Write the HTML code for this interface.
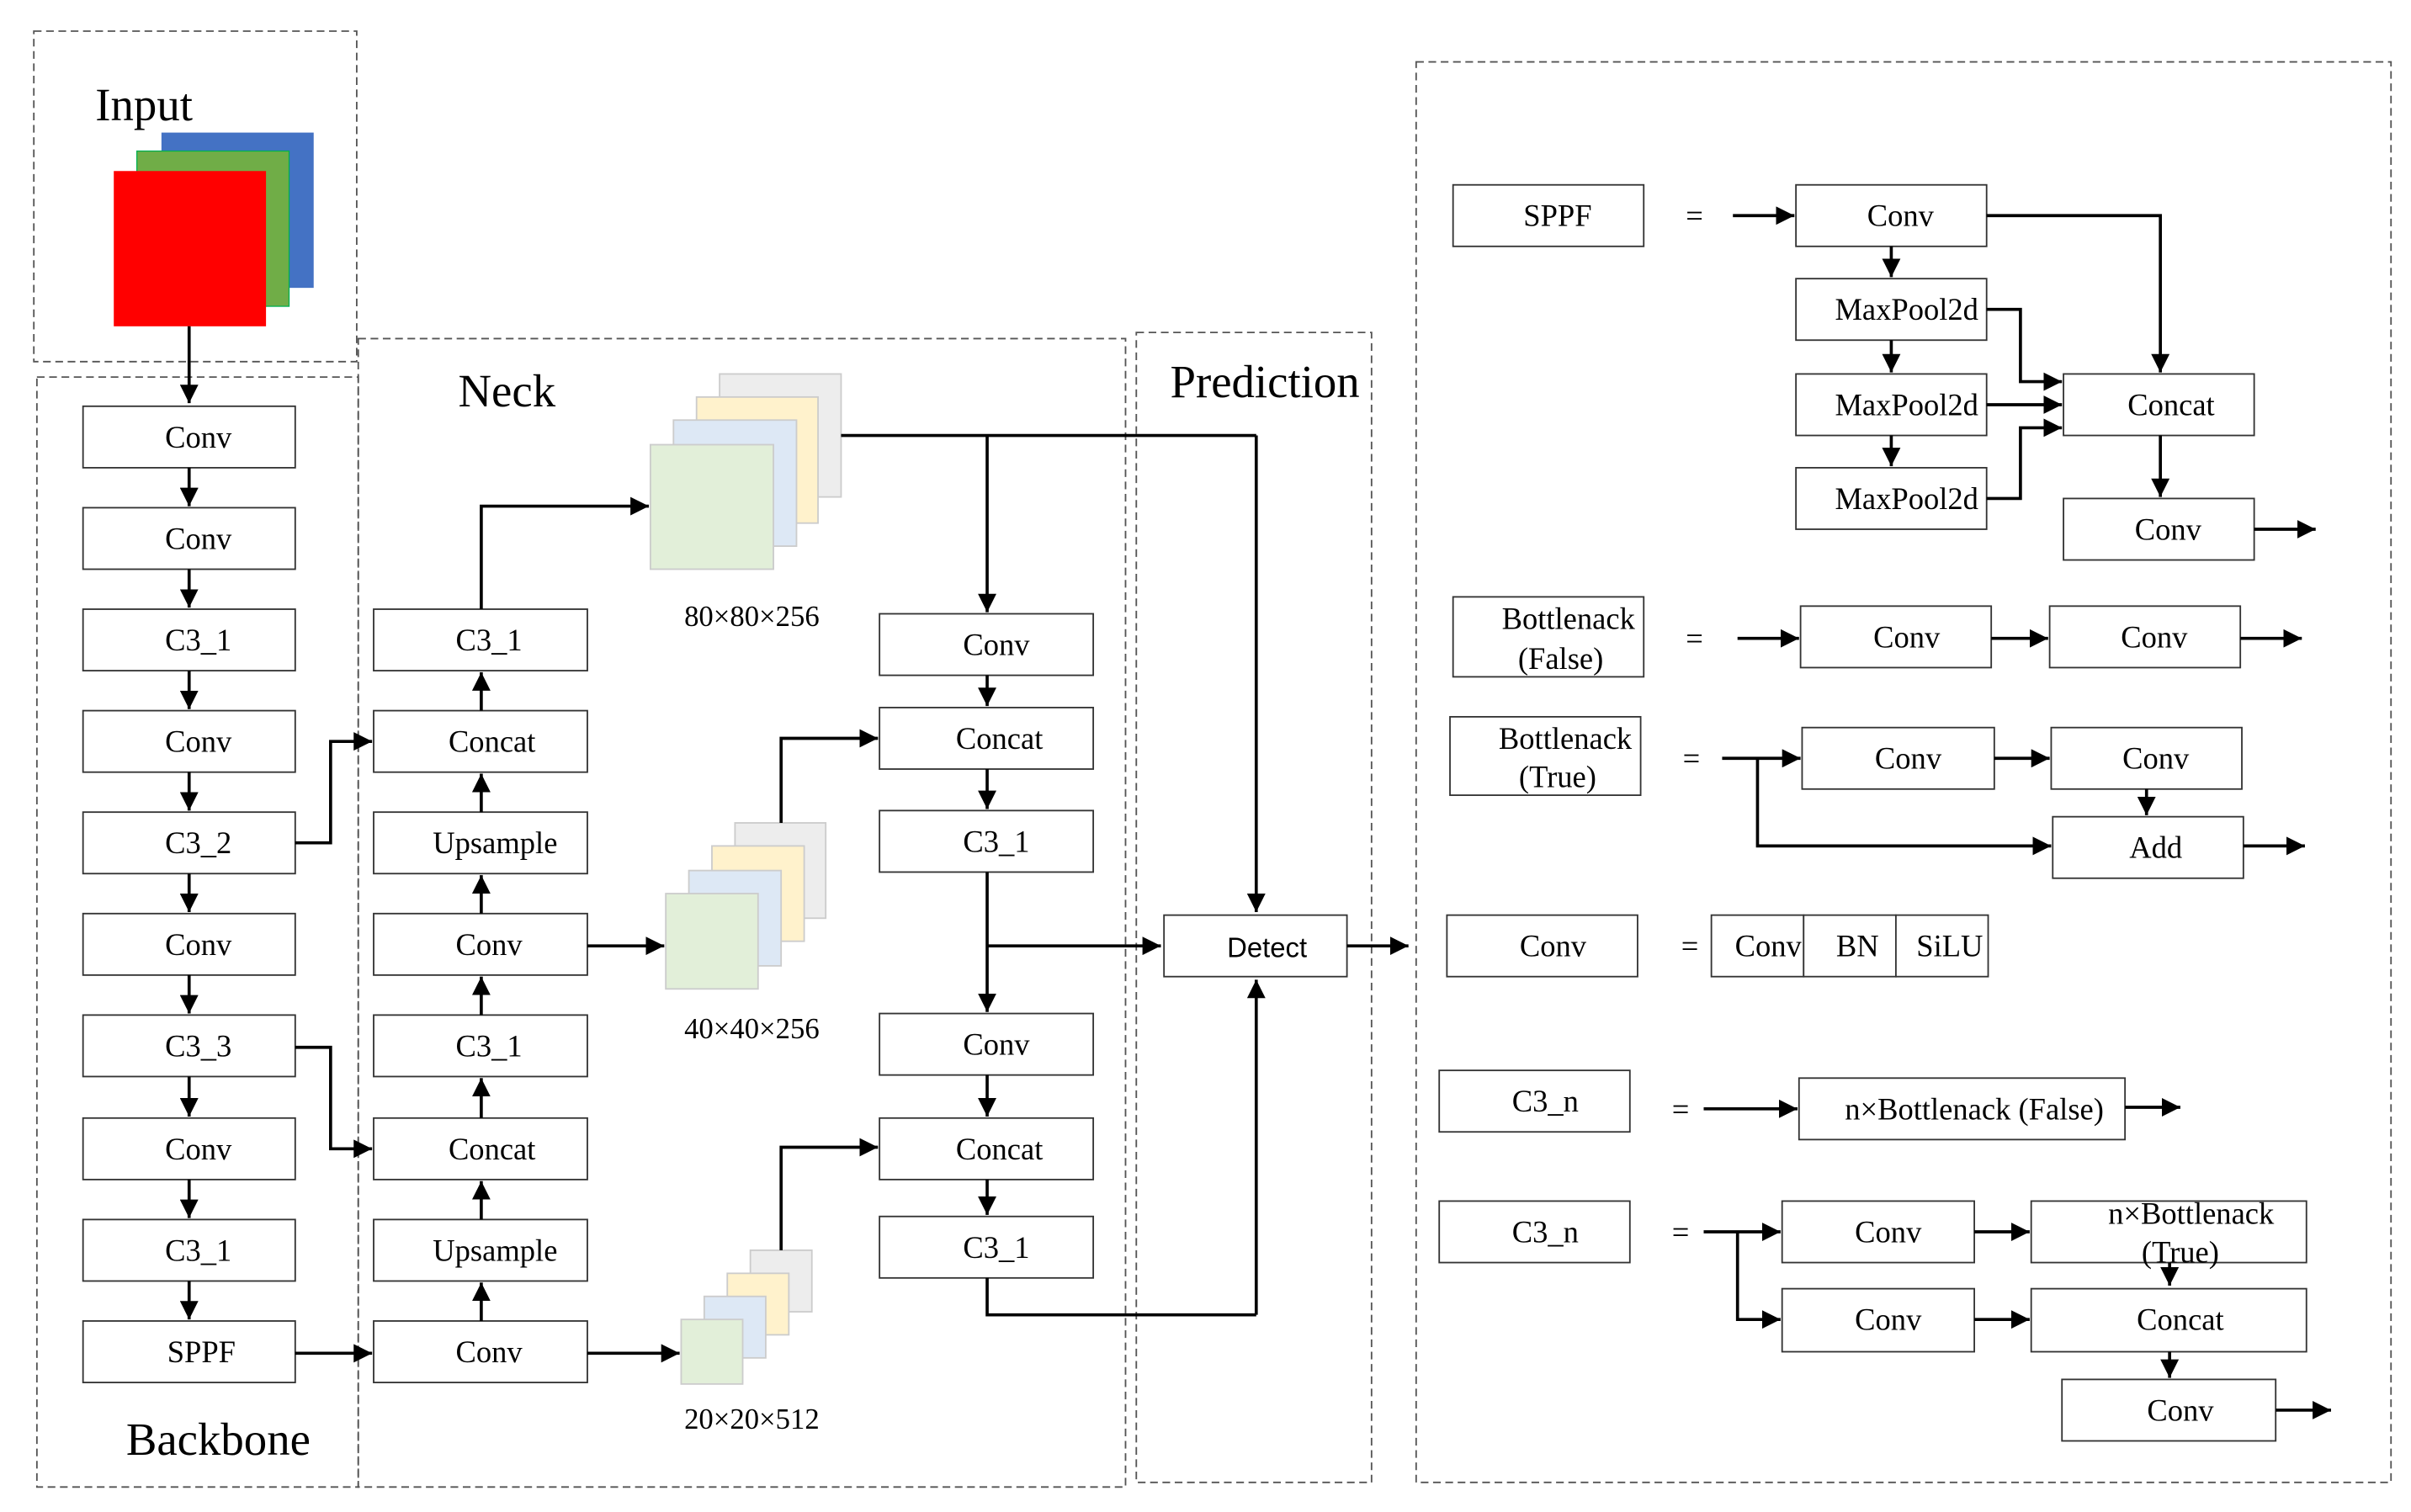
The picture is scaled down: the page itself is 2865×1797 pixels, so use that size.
<!DOCTYPE html>
<html><head><meta charset="utf-8"><style>
html,body{margin:0;padding:0;background:#fff}
svg{display:block}
text{font-family:"Liberation Serif",serif;fill:#000}
.b{fill:#fff;stroke:#333;stroke-width:1}
.d{fill:none;stroke:#555;stroke-width:1;stroke-dasharray:5 3}
.l{fill:none;stroke:#000;stroke-width:2;marker-end:url(#a)}
.n{fill:none;stroke:#000;stroke-width:2}
.t{font-size:20px;text-anchor:middle;dominant-baseline:central}
.T{font-size:30px}
</style></head><body>
<svg width="2865" height="1797" viewBox="0 0 1568 983" xmlns="http://www.w3.org/2000/svg">
<defs><marker id="a" viewBox="0 0 10 10" refX="10" refY="5" markerWidth="6" markerHeight="6" markerUnits="strokeWidth" orient="auto"><path d="M0,0L10,5L0,10z" fill="#000"/></marker></defs>

<rect class="d" x="22" y="20" width="210" height="215"/>
<rect class="d" x="24" y="245" width="209" height="722"/>
<rect class="d" x="233" y="220" width="499" height="747"/>
<rect class="d" x="739" y="216" width="153" height="748"/>
<rect class="d" x="921" y="40" width="634" height="924"/>

<text class="T" x="62" y="78">Input</text>
<text class="T" x="298" y="264">Neck</text>
<text class="T" x="82" y="946">Backbone</text>
<text class="T" x="761" y="258">Prediction</text>

<rect x="105" y="86" width="99" height="101" fill="#4472c4"/>
<rect x="89" y="98" width="99" height="101" fill="#70ad47" stroke="#00b050" stroke-width="0.7"/>
<rect x="74" y="111" width="99" height="101" fill="#ff0000"/>
<path class="l" d="M123,212V262"/>

<rect class="b" x="54" y="264" width="138" height="40"/><text class="t" x="129" y="284">Conv</text>
<rect class="b" x="54" y="330" width="138" height="40"/><text class="t" x="129" y="350">Conv</text>
<rect class="b" x="54" y="396" width="138" height="40"/><text class="t" x="129" y="416">C3_1</text>
<rect class="b" x="54" y="462" width="138" height="40"/><text class="t" x="129" y="482">Conv</text>
<rect class="b" x="54" y="528" width="138" height="40"/><text class="t" x="129" y="548">C3_2</text>
<rect class="b" x="54" y="594" width="138" height="40"/><text class="t" x="129" y="614">Conv</text>
<rect class="b" x="54" y="660" width="138" height="40"/><text class="t" x="129" y="680">C3_3</text>
<rect class="b" x="54" y="727" width="138" height="40"/><text class="t" x="129" y="747">Conv</text>
<rect class="b" x="54" y="793" width="138" height="40"/><text class="t" x="129" y="813">C3_1</text>
<rect class="b" x="54" y="859" width="138" height="40"/><text class="t" x="131" y="879">SPPF</text>
<path class="l" d="M123,304V329"/><path class="l" d="M123,370V395"/><path class="l" d="M123,436V461"/>
<path class="l" d="M123,502V527"/><path class="l" d="M123,568V593"/><path class="l" d="M123,634V659"/>
<path class="l" d="M123,700V726"/><path class="l" d="M123,767V792"/><path class="l" d="M123,833V858"/>

<rect class="b" x="243" y="396" width="139" height="40"/><text class="t" x="318" y="416">C3_1</text>
<rect class="b" x="243" y="462" width="139" height="40"/><text class="t" x="320" y="482">Concat</text>
<rect class="b" x="243" y="528" width="139" height="40"/><text class="t" x="322" y="548">Upsample</text>
<rect class="b" x="243" y="594" width="139" height="40"/><text class="t" x="318" y="614">Conv</text>
<rect class="b" x="243" y="660" width="139" height="40"/><text class="t" x="318" y="680">C3_1</text>
<rect class="b" x="243" y="727" width="139" height="40"/><text class="t" x="320" y="747">Concat</text>
<rect class="b" x="243" y="793" width="139" height="40"/><text class="t" x="322" y="813">Upsample</text>
<rect class="b" x="243" y="859" width="139" height="40"/><text class="t" x="318" y="879">Conv</text>
<path class="l" d="M313,462V437"/><path class="l" d="M313,528V503"/><path class="l" d="M313,594V569"/>
<path class="l" d="M313,660V635"/><path class="l" d="M313,727V701"/><path class="l" d="M313,793V768"/>
<path class="l" d="M313,859V834"/>
<path class="l" d="M192,548H215V482H242"/>
<path class="l" d="M192,681H215V747H242"/>
<path class="l" d="M192,880H242"/>
<path class="l" d="M313,396V329H422"/>
<path class="l" d="M382,615H432"/>
<path class="l" d="M382,880H442"/>

<g stroke="#ccc" stroke-width="1">
<rect x="468" y="243" width="79" height="80" fill="#ededed"/>
<rect x="453" y="258" width="79" height="82" fill="#fff2cc"/>
<rect x="438" y="273" width="80" height="82" fill="#dde8f5"/>
<rect x="423" y="289" width="80" height="81" fill="#e2efd9"/>
<rect x="478" y="535" width="59" height="62" fill="#ededed"/>
<rect x="463" y="550" width="60" height="62" fill="#fff2cc"/>
<rect x="448" y="566" width="60" height="62" fill="#dde8f5"/>
<rect x="433" y="581" width="60" height="62" fill="#e2efd9"/>
<rect x="488" y="813" width="40" height="40" fill="#ededed"/>
<rect x="473" y="828" width="40" height="40" fill="#fff2cc"/>
<rect x="458" y="843" width="40" height="40" fill="#dde8f5"/>
<rect x="443" y="858" width="40" height="42" fill="#e2efd9"/>
</g>
<text x="445" y="407" style="font-size:19px">80×80×256</text>
<text x="445" y="675" style="font-size:19px">40×40×256</text>
<text x="445" y="929" style="font-size:19px">20×20×512</text>

<rect class="b" x="572" y="399" width="139" height="40"/><text class="t" x="648" y="419">Conv</text>
<rect class="b" x="572" y="460" width="139" height="40"/><text class="t" x="650" y="480">Concat</text>
<rect class="b" x="572" y="527" width="139" height="40"/><text class="t" x="648" y="547">C3_1</text>
<rect class="b" x="572" y="659" width="139" height="40"/><text class="t" x="648" y="679">Conv</text>
<rect class="b" x="572" y="727" width="139" height="40"/><text class="t" x="650" y="747">Concat</text>
<rect class="b" x="572" y="791" width="139" height="40"/><text class="t" x="648" y="811">C3_1</text>
<path class="n" d="M547,283H817"/>
<path class="l" d="M817,283V593"/>
<path class="l" d="M642,283V398"/>
<path class="l" d="M642,439V459"/><path class="l" d="M642,500V526"/>
<path class="l" d="M642,699V726"/><path class="l" d="M642,767V790"/>
<path class="l" d="M642,567V658"/>
<path class="l" d="M642,615H755"/>
<path class="n" d="M642,831V855H817"/>
<path class="l" d="M817,855V637"/>
<path class="l" d="M508,535V480H571"/>
<path class="l" d="M508,813V746H571"/>

<rect class="b" x="757" y="595" width="119" height="40"/><text class="t" x="824" y="616" style="font-family:'Liberation Sans',sans-serif;font-size:18px">Detect</text>
<path class="l" d="M876,615H916"/>

<rect class="b" x="945" y="120" width="124" height="40"/><text class="t" x="1013" y="140">SPPF</text>
<text class="t" x="1102" y="140">=</text>
<path class="l" d="M1127,140H1167"/>
<rect class="b" x="1168" y="120" width="124" height="40"/><text class="t" x="1236" y="140">Conv</text>
<rect class="b" x="1168" y="181" width="124" height="40"/><text class="t" x="1240" y="201">MaxPool2d</text>
<rect class="b" x="1168" y="243" width="124" height="40"/><text class="t" x="1240" y="263">MaxPool2d</text>
<rect class="b" x="1168" y="304" width="124" height="40"/><text class="t" x="1240" y="324">MaxPool2d</text>
<path class="l" d="M1230,160V180"/><path class="l" d="M1230,221V242"/><path class="l" d="M1230,283V303"/>
<path class="l" d="M1292,140H1405V242"/>
<rect class="b" x="1342" y="243" width="124" height="40"/><text class="t" x="1412" y="263">Concat</text>
<path class="l" d="M1292,201H1314V248H1341"/>
<path class="l" d="M1292,263H1341"/>
<path class="l" d="M1292,324H1314V278H1341"/>
<path class="l" d="M1405,283V323"/>
<rect class="b" x="1342" y="324" width="124" height="40"/><text class="t" x="1410" y="344">Conv</text>
<path class="l" d="M1466,344H1506"/>

<rect class="b" x="945" y="388" width="124" height="52"/>
<text class="t" x="1020" y="402">Bottlenack</text><text class="t" x="1015" y="428">(False)</text>
<text class="t" x="1102" y="415">=</text>
<path class="l" d="M1130,415H1170"/>
<rect class="b" x="1171" y="394" width="124" height="40"/><text class="t" x="1240" y="414">Conv</text>
<path class="l" d="M1295,415H1332"/>
<rect class="b" x="1333" y="394" width="124" height="40"/><text class="t" x="1401" y="414">Conv</text>
<path class="l" d="M1457,415H1497"/>

<rect class="b" x="943" y="466" width="124" height="51"/>
<text class="t" x="1018" y="480">Bottlenack</text><text class="t" x="1013" y="505">(True)</text>
<text class="t" x="1100" y="493">=</text>
<path class="l" d="M1120,493H1171"/>
<rect class="b" x="1172" y="473" width="125" height="40"/><text class="t" x="1241" y="493">Conv</text>
<path class="l" d="M1297,493H1333"/>
<rect class="b" x="1334" y="473" width="124" height="40"/><text class="t" x="1402" y="493">Conv</text>
<path class="l" d="M1396,513V530"/>
<rect class="b" x="1335" y="531" width="124" height="40"/><text class="t" x="1402" y="551">Add</text>
<path class="l" d="M1143,493V550H1334"/>
<path class="l" d="M1459,550H1499"/>

<rect class="b" x="941" y="595" width="124" height="40"/><text class="t" x="1010" y="615">Conv</text>
<text class="t" x="1099" y="615">=</text>
<rect class="b" x="1113" y="595" width="60" height="40"/><text class="t" x="1150" y="615">Conv</text>
<rect class="b" x="1173" y="595" width="60" height="40"/><text class="t" x="1208" y="615">BN</text>
<rect class="b" x="1233" y="595" width="60" height="40"/><text class="t" x="1268" y="615">SiLU</text>

<rect class="b" x="936" y="696" width="124" height="40"/><text class="t" x="1005" y="716">C3_n</text>
<text class="t" x="1093" y="721">=</text>
<path class="l" d="M1108,721H1169"/>
<rect class="b" x="1170" y="701" width="212" height="40"/><text class="t" x="1284" y="721">n×Bottlenack (False)</text>
<path class="l" d="M1382,720H1418"/>

<rect class="b" x="936" y="781" width="124" height="40"/><text class="t" x="1005" y="801">C3_n</text>
<text class="t" x="1093" y="801">=</text>
<path class="l" d="M1108,801H1158"/>
<rect class="b" x="1159" y="781" width="125" height="40"/><text class="t" x="1228" y="801">Conv</text>
<path class="l" d="M1284,801H1320"/>
<rect class="b" x="1321" y="781" width="179" height="40"/>
<text class="t" x="1425" y="789">n×Bottlenack</text><text class="t" x="1418" y="814">(True)</text>
<rect class="b" x="1159" y="838" width="125" height="41"/><text class="t" x="1228" y="858">Conv</text>
<path class="l" d="M1130,801V858H1158"/>
<path class="l" d="M1284,858H1320"/>
<rect class="b" x="1321" y="838" width="179" height="41"/><text class="t" x="1418" y="858">Concat</text>
<path class="l" d="M1411,821V836"/>
<path class="l" d="M1411,879V896"/>
<rect class="b" x="1341" y="897" width="139" height="40"/><text class="t" x="1418" y="917">Conv</text>
<path class="l" d="M1480,917H1516"/>
</svg>
</body></html>
